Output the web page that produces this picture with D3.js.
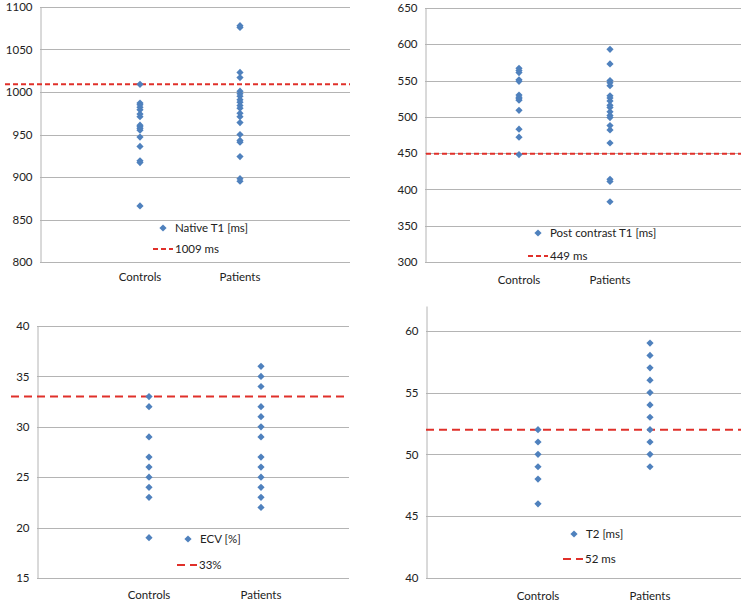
<!DOCTYPE html>
<html><head><meta charset="utf-8">
<script src="https://cdn.jsdelivr.net/npm/d3@7"></script>
<style>body{margin:0;background:#fff}svg{display:block}text{font-family:Lato,"Open Sans",sans-serif;fill:#222}</style>
</head><body>
<script>
const categories = ["Controls", "Patients"];

const nativeT1Controls = [1009, 987, 985, 982, 979, 974, 971, 961, 959, 957, 955, 947, 936, 919, 917, 866];
const nativeT1Patients = [1078, 1076, 1023, 1017, 1001, 998, 995, 991, 988, 984, 981, 975, 971, 964, 950, 943, 941, 924, 898, 895];
const nativeT1Cutoff = 1009;

const postT1Controls = [567, 564, 561, 551, 549, 530, 527, 525, 523, 509, 483, 472, 448];
const postT1Patients = [593, 573, 550, 547, 543, 529, 526, 522, 516, 513, 507, 502, 499, 488, 482, 464, 414, 411, 383];
const postT1Cutoff = 449;

const ecvControls = [33, 32, 29, 27, 26, 25, 24, 23, 19];
const ecvPatients = [36, 35, 34, 32, 31, 30, 29, 27, 26, 25, 24, 23, 22];
const ecvCutoff = 33;

const t2Controls = [52, 51, 50, 49, 48, 46];
const t2Patients = [59, 58, 57, 56, 55, 54, 53, 52, 51, 50, 49];
const t2Cutoff = 52;

const ticks1 = [800, 850, 900, 950, 1000, 1050, 1100];
const ticks2 = [300, 350, 400, 450, 500, 550, 600, 650];
const ticks3 = [15, 20, 25, 30, 35, 40];
const ticks4 = [40, 45, 50, 55, 60];

const legend1 = ["Native T1 [ms]", "1009 ms"];
const legend2 = ["Post contrast T1 [ms]", "449 ms"];
const legend3 = ["ECV [%]", "33%"];
const legend4 = ["T2 [ms]", "52 ms"];

const svg = d3.select("body").append("svg").attr("width", 746).attr("height", 603);

const panels = [
  {controls: nativeT1Controls, patients: nativeT1Patients, cutoff: nativeT1Cutoff, ticks: ticks1, domain: [800, 1100], legend: legend1,
   left: 40, right: 350, top: 7, bottom: 262, cx: [140, 240], labelY: 281, redStart: 5, dash: "5,3",
   legX: 163, legY: 228, legDashX: 153, legDashY: 249, legTextX: 175, topGrid: true},
  {controls: postT1Controls, patients: postT1Patients, cutoff: postT1Cutoff, ticks: ticks2, domain: [300, 650], legend: legend2,
   left: 425, right: 741, top: 8, bottom: 262, cx: [519, 610], labelY: 284, redStart: 426, dash: "5,3",
   legX: 538, legY: 233, legDashX: 528, legDashY: 256, legTextX: 550, topGrid: true},
  {controls: ecvControls, patients: ecvPatients, cutoff: ecvCutoff, ticks: ticks3, domain: [15, 40], legend: legend3,
   left: 37, right: 349, top: 326, bottom: 578, cx: [149, 261], labelY: 599, redStart: 11, dash: "8,5",
   legX: 188, legY: 539, legDashX: 177, legDashY: 565, legTextX: 199, topGrid: true},
  {controls: t2Controls, patients: t2Patients, cutoff: t2Cutoff, ticks: ticks4, domain: [40, 62], legend: legend4,
   left: 426, right: 741, top: 306, bottom: 578, cx: [538, 650], labelY: 600, redStart: 426, dash: "8,5",
   legX: 574, legY: 534, legDashX: 563, legDashY: 559, legTextX: 585, topGrid: false}
];

const blue = "#4F81BD", red = "#E0302A", grid = "#b4b4b4";
const diamond = "M0,-3.6L3.6,0L0,3.6L-3.6,0Z";

panels.forEach(p => {
  const g = svg.append("g");
  const y = d3.scaleLinear().domain(p.domain).range([p.bottom, p.top]);
  const x = d3.scalePoint().domain(categories).range(p.cx);

  g.selectAll("line.grid").data(p.ticks.filter(t => p.topGrid || t < p.domain[1])).enter().append("line")
    .attr("x1", p.left).attr("x2", p.right)
    .attr("y1", d => Math.round(y(d)) + 0.5).attr("y2", d => Math.round(y(d)) + 0.5)
    .attr("stroke", grid).attr("stroke-width", 1);

  const ax = g.append("g").attr("transform", `translate(${p.left + 0.5},0)`)
    .call(d3.axisLeft(y).tickValues(p.ticks).tickSize(0).tickPadding(8).tickFormat(d3.format("d")));
  ax.select(".domain").attr("stroke", grid);
  ax.selectAll("text").style("font-family", "Lato, sans-serif").style("font-size", "11.5px").attr("fill", "#222");

  g.selectAll("text.cat").data(categories).enter().append("text")
    .attr("x", d => x(d)).attr("y", p.labelY).attr("text-anchor", "middle")
    .style("font-size", "11.5px").text(d => d);

  g.append("line").attr("x1", p.redStart).attr("x2", p.right)
    .attr("y1", y(p.cutoff)).attr("y2", y(p.cutoff))
    .attr("stroke", red).attr("stroke-width", 2).attr("stroke-dasharray", p.dash);

  const pts = [];
  p.controls.forEach(v => pts.push({c: categories[0], v}));
  p.patients.forEach(v => pts.push({c: categories[1], v}));
  g.selectAll("path.pt").data(pts).enter().append("path")
    .attr("d", diamond).attr("fill", blue)
    .attr("transform", d => `translate(${x(d.c)},${y(d.v)})`);

  g.append("path").attr("d", diamond).attr("fill", blue).attr("transform", `translate(${p.legX},${p.legY})`);
  g.append("text").attr("x", p.legX + 12).attr("y", p.legY + 4).style("font-size", "11.5px").text(p.legend[0]);
  g.append("line").attr("x1", p.legDashX).attr("x2", p.legDashX + 20).attr("y1", p.legDashY).attr("y2", p.legDashY)
    .attr("stroke", red).attr("stroke-width", 2).attr("stroke-dasharray", p.dash);
  g.append("text").attr("x", p.legTextX).attr("y", p.legDashY + 4).style("font-size", "11.5px").text(p.legend[1]);
});
</script>
</body></html>
